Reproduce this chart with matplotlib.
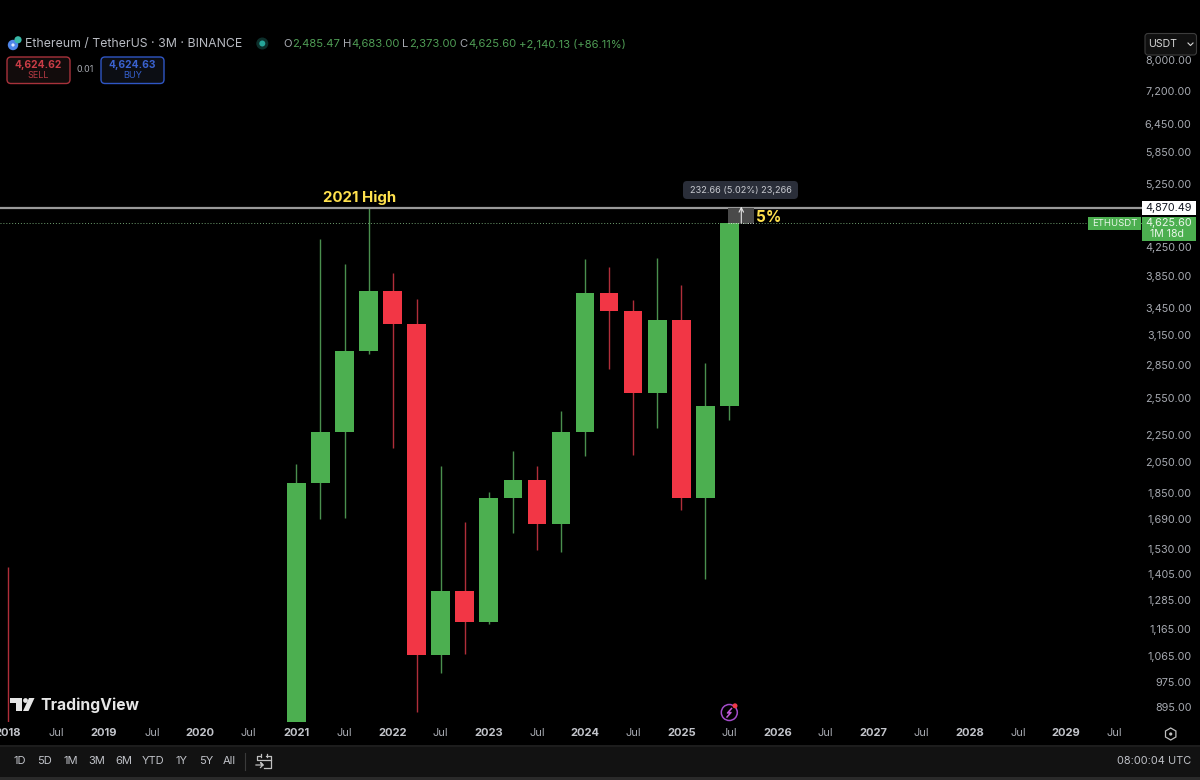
import numpy as np
import matplotlib
matplotlib.use("Agg")
import matplotlib.pyplot as plt
from matplotlib.patches import FancyBboxPatch, Rectangle, Circle, Polygon, RegularPolygon

plt.rcParams['font.family'] = ['Inter', 'DejaVu Sans']

# ---- data ----
candle_x = [2018.0, 2021.0, 2021.25, 2021.5, 2021.75, 2022.0, 2022.25, 2022.5, 2022.75,
            2023.0, 2023.25, 2023.5, 2023.75, 2024.0, 2024.25, 2024.5, 2024.75,
            2025.0, 2025.25, 2025.5]
opens  = [733, 737, 1919, 2275, 3000, 3676, 3281, 1070, 1328, 1196, 1822, 1934, 1671,
          2281, 3647, 3433, 2602, 3332, 1822, 2485.47]
highs  = [1442, 2042, 4372, 4027, 4868, 3900, 3580, 2030, 1680, 1857, 2140, 2030, 2446,
          4090, 3978, 3563, 4107, 3744, 2880, 4683]
lows   = [566, 714, 1700, 1705, 2970, 2159, 883, 1008, 1073, 1190, 1620, 1530, 1520,
          2100, 2820, 2111, 2310, 1750, 1385, 2373]
closes = [397, 1919, 2275, 3000, 3676, 3281, 1070, 1328, 1196, 1822, 1934, 1671, 2281,
          3647, 3433, 2602, 3332, 1822, 2486, 4625.6]

price_ticks = [8000, 7200, 6450, 5850, 5250, 4250, 3850, 3450, 3150, 2850, 2550, 2250,
               2050, 1850, 1690, 1530, 1405, 1285, 1165, 1065, 975, 895]
time_tick_x = [2018, 2018.5, 2019, 2019.5, 2020, 2020.5, 2021, 2021.5, 2022, 2022.5, 2023, 2023.5,
               2024, 2024.5, 2025, 2025.5, 2026, 2026.5, 2027, 2027.5, 2028, 2028.5, 2029, 2029.5]
time_tick_labels = ['2018', 'Jul', '2019', 'Jul', '2020', 'Jul', '2021', 'Jul', '2022', 'Jul', '2023', 'Jul',
                    '2024', 'Jul', '2025', 'Jul', '2026', 'Jul', '2027', 'Jul', '2028', 'Jul', '2029', 'Jul']
range_buttons = ['1D', '5D', '1M', '3M', '6M', 'YTD', '1Y', '5Y', 'All']
range_x_px = [19.7, 44, 70.7, 97, 123.7, 153, 182, 205.7, 229.7]
line_high = 4870.49
last_close = 4625.60

GREEN = '#4CAF50'
HDR_GREEN = '#4f9d55'
RED = '#F23645'
TXT = '#a6a9b0'

W, H = 1200, 780
fig = plt.figure(figsize=(W/100, H/100), dpi=100, facecolor='black')

ui = fig.add_axes([0, 0, 1, 1], facecolor='none', zorder=5)
ui.set_xlim(0, W); ui.set_ylim(H, 0); ui.axis('off')

ax = fig.add_axes([0, 1-722/H, 1144/W, 722/H], facecolor='black', zorder=1)
ax.set_yscale('log')
PX_PER_LN = 295.4
Y8000 = 61.0
PX_PER_YEAR = 96.2
X2021 = 296.4
ax.set_ylim(8000*np.exp(-(722-Y8000)/PX_PER_LN), 8000*np.exp(Y8000/PX_PER_LN))
X0 = 2021 - X2021/PX_PER_YEAR
ax.set_xlim(X0, X0 + 1144/PX_PER_YEAR)
ax.axis('off')

bw = 18.7/PX_PER_YEAR
for x, o, h, l, c in zip(candle_x, opens, highs, lows, closes):
    col = GREEN if c >= o else RED
    wick = '#4a8f4e' if c >= o else '#b02e3a'
    ax.plot([x, x], [l, h], color=wick, lw=1.0, solid_capstyle='butt', zorder=2)
    ax.add_patch(Rectangle((x-bw/2, min(o, c)), bw, abs(c-o), facecolor=col, edgecolor='none', zorder=3))

ax.axhline(line_high, color='#9a9a9a', lw=1.6, zorder=4)
ax.axhline(last_close, color='#6f9f70', lw=0.7, ls=(0, (1, 2)), zorder=1)

# measuring tool
mx = 2025.5
mw = 26/PX_PER_YEAR
ax.add_patch(Rectangle((mx - 1/PX_PER_YEAR, last_close), mw, line_high-last_close,
                       facecolor='#4a4a4a', edgecolor='none', zorder=5))
ax.plot([mx - 1/PX_PER_YEAR, mx - 1/PX_PER_YEAR + mw], [last_close, last_close],
        color='#d8d8d8', lw=0.7, ls=(0, (1, 1.5)), zorder=6)
ax.annotate('', xy=(mx + 12/PX_PER_YEAR, line_high*1.004), xytext=(mx + 12/PX_PER_YEAR, last_close),
            arrowprops=dict(arrowstyle='->', color='#e6e6e6', lw=0.8, mutation_scale=8,
                            shrinkA=0, shrinkB=0), zorder=6)

# time axis
for x, lab in zip(time_tick_x, time_tick_labels):
    px = X2021 + (x-2021)*PX_PER_YEAR
    bold = lab != 'Jul'
    ui.text(px, 733.5, lab, color='#c2c4ca' if bold else TXT, fontsize=8.0,
            fontweight='bold' if bold else 'normal', ha='center', va='center')

# price axis labels
for p in price_ticks:
    y = Y8000 + np.log(8000/p)*PX_PER_LN
    ui.text(1191.5, y, f'{p:,.2f}', color=TXT, fontsize=7.8, ha='right', va='center')

# price boxes
ui.add_patch(Rectangle((1142, 201), 54, 14, facecolor='white', edgecolor='none'))
ui.text(1191.5, 208, '4,870.49', color='#131722', fontsize=7.8, ha='right', va='center')
ui.add_patch(Rectangle((1142, 216.5), 54, 24.5, facecolor=GREEN, edgecolor='none'))
ui.text(1191.5, 223, '4,625.60', color='#eaf6ea', fontsize=7.8, ha='right', va='center')
ui.text(1150, 234, '1M 18d', color='#eaf6ea', fontsize=7.6, ha='left', va='center')
ui.add_patch(Rectangle((1088, 216.5), 53, 13.5, facecolor=GREEN, edgecolor='none'))
ui.text(1114.5, 223, 'ETHUSDT', color='#eaf6ea', fontsize=6.9, ha='center', va='center')

# annotations
ui.text(360, 197.5, '2021 High', color='#FFE14D', fontsize=10.8, fontweight='bold', ha='center', va='center')
ui.text(756, 218, '5%', color='#FFE14D', fontsize=11, fontweight='bold', ha='left', va='center')
ui.add_patch(FancyBboxPatch((683, 181), 115, 18, boxstyle='round,pad=0,rounding_size=4',
                            facecolor='#2a2e39', edgecolor='none'))
ui.text(741, 190.7, '232.66 (5.02%) 23,266', color='#c8cad0', fontsize=6.6, ha='center', va='center')

# header
ui.add_patch(Circle((13, 45), 5.2, facecolor='#4f86e8', edgecolor='none'))
ui.add_patch(Circle((13, 45), 1.6, facecolor='#dfe8fb', edgecolor='none'))
ui.add_patch(Circle((18, 39.8), 3.6, facecolor='#39b8a6', edgecolor='none'))
ui.text(25, 44, 'Ethereum / TetherUS · 3M · BINANCE', color='#b8bbc2', fontsize=8.85, ha='left', va='center')
ui.add_patch(Circle((262.3, 43.5), 6, facecolor='#0c2f2b', edgecolor='none'))
ui.add_patch(Circle((262.3, 43.5), 3, facecolor='#26a69a', edgecolor='none'))
header_items = [('O', 283, TXT), ('2,485.47', 292, HDR_GREEN), ('H', 343, TXT), ('4,683.00', 351, HDR_GREEN),
                ('L', 402, TXT), ('2,373.00', 409, HDR_GREEN), ('C', 459, TXT), ('4,625.60', 468, HDR_GREEN),
                ('+2,140.13 (+86.11%)', 519, HDR_GREEN)]
for s, px, c in header_items:
    ui.text(px, 44, s, color=c, fontsize=8.1, ha='left', va='center')

# buy / sell
ui.add_patch(FancyBboxPatch((7, 57), 63, 26.5, boxstyle='round,pad=0,rounding_size=4',
                            facecolor='#120c0c', edgecolor='#a8323b', lw=1))
ui.text(38.4, 65, '4,624.62', color='#c93c46', fontsize=7.4, fontweight='bold', ha='center', va='center')
ui.text(38, 76, 'SELL', color='#b83a44', fontsize=6.6, ha='center', va='center')
ui.text(85, 70, '0.01', color=TXT, fontsize=6.4, ha='center', va='center')
ui.add_patch(FancyBboxPatch((101, 57), 63, 26.5, boxstyle='round,pad=0,rounding_size=4',
                            facecolor='#0c0e14', edgecolor='#2f56c4', lw=1))
ui.text(132.4, 65, '4,624.63', color='#3a62cf', fontsize=7.4, fontweight='bold', ha='center', va='center')
ui.text(132.4, 76, 'BUY', color='#3560cf', fontsize=6.6, ha='center', va='center')

# currency selector
ui.add_patch(FancyBboxPatch((1145, 33.5), 51.5, 21.5, boxstyle='round,pad=0,rounding_size=3',
                            facecolor='#101010', edgecolor='#3c3c3c', lw=0.8))
ui.text(1148.5, 44, 'USDT', color='#d8d8d8', fontsize=7.6, ha='left', va='center')
ui.plot([1188, 1190.5, 1193], [43, 45.5, 43], color='#d8d8d8', lw=0.8)

# logo
LOGO = '#e6e6e6'
ui.add_patch(Polygon([(10, 698), (22, 698), (22, 711), (16, 711), (16, 703), (10, 703)], facecolor=LOGO, edgecolor='none'))
ui.add_patch(Circle((25.5, 700.5), 2.4, facecolor=LOGO, edgecolor='none'))
ui.add_patch(Polygon([(29, 698), (34.5, 698), (28.5, 711), (23, 711)], facecolor=LOGO, edgecolor='none'))
ui.text(40, 705, 'TradingView', color=LOGO, fontsize=11.3, fontweight='bold', ha='left', va='center')

# lightning badge
ui.add_patch(Circle((729.3, 712.5), 8, facecolor='none', edgecolor='#a24bc9', lw=1.1))
ui.plot([731.5, 727.5, 731, 727], [708.5, 713, 712.5, 717], color='#c05ad8', lw=1.1)
ui.add_patch(Circle((735, 705.8), 2.5, facecolor='#ef3a4a', edgecolor='none'))

# settings glyph
ui.add_patch(RegularPolygon((1170.7, 734), 6, radius=6, facecolor='none', edgecolor='#c0c0c0', lw=0.9))
ui.add_patch(Circle((1170.7, 734), 1.6, facecolor='#c0c0c0', edgecolor='none'))

# bottom bar
ui.add_patch(Rectangle((0, 744.5), W, 2, facecolor='#1d1d1d', edgecolor='none'))
ui.add_patch(Rectangle((0, 746.5), W, 30, facecolor='#121212', edgecolor='none'))
ui.add_patch(Rectangle((0, 776.5), W, 3.5, facecolor='#2a2a2a', edgecolor='none'))
for x, lab in zip(range_x_px, range_buttons):
    ui.text(x, 761.5, lab, color='#c0c2c8', fontsize=8.0, ha='center', va='center')
ui.plot([244.5, 244.5], [752.5, 770], color='#3a3a3a', lw=0.8)
ICON = '#c0c0c0'
ui.plot([260, 257, 257, 270.5, 270.5, 264], [755.5, 755.5, 760, 760, 767.5, 767.5], color=ICON, lw=0.9)
ui.plot([270.5, 270.5, 266], [760, 755.5, 755.5], color=ICON, lw=0.9)
ui.plot([260.5, 260.5], [753.5, 757], color=ICON, lw=0.9)
ui.plot([266.5, 266.5], [753.5, 757], color=ICON, lw=0.9)
ui.plot([256, 263, 260.5, 263, 260.5], [765, 765, 762.5, 765, 767.5], color=ICON, lw=0.9)
ui.text(1191.7, 761.5, '08:00:04 UTC', color='#c0c2c8', fontsize=7.9, ha='right', va='center')

fig.savefig('out.png', dpi=100, facecolor='black')
